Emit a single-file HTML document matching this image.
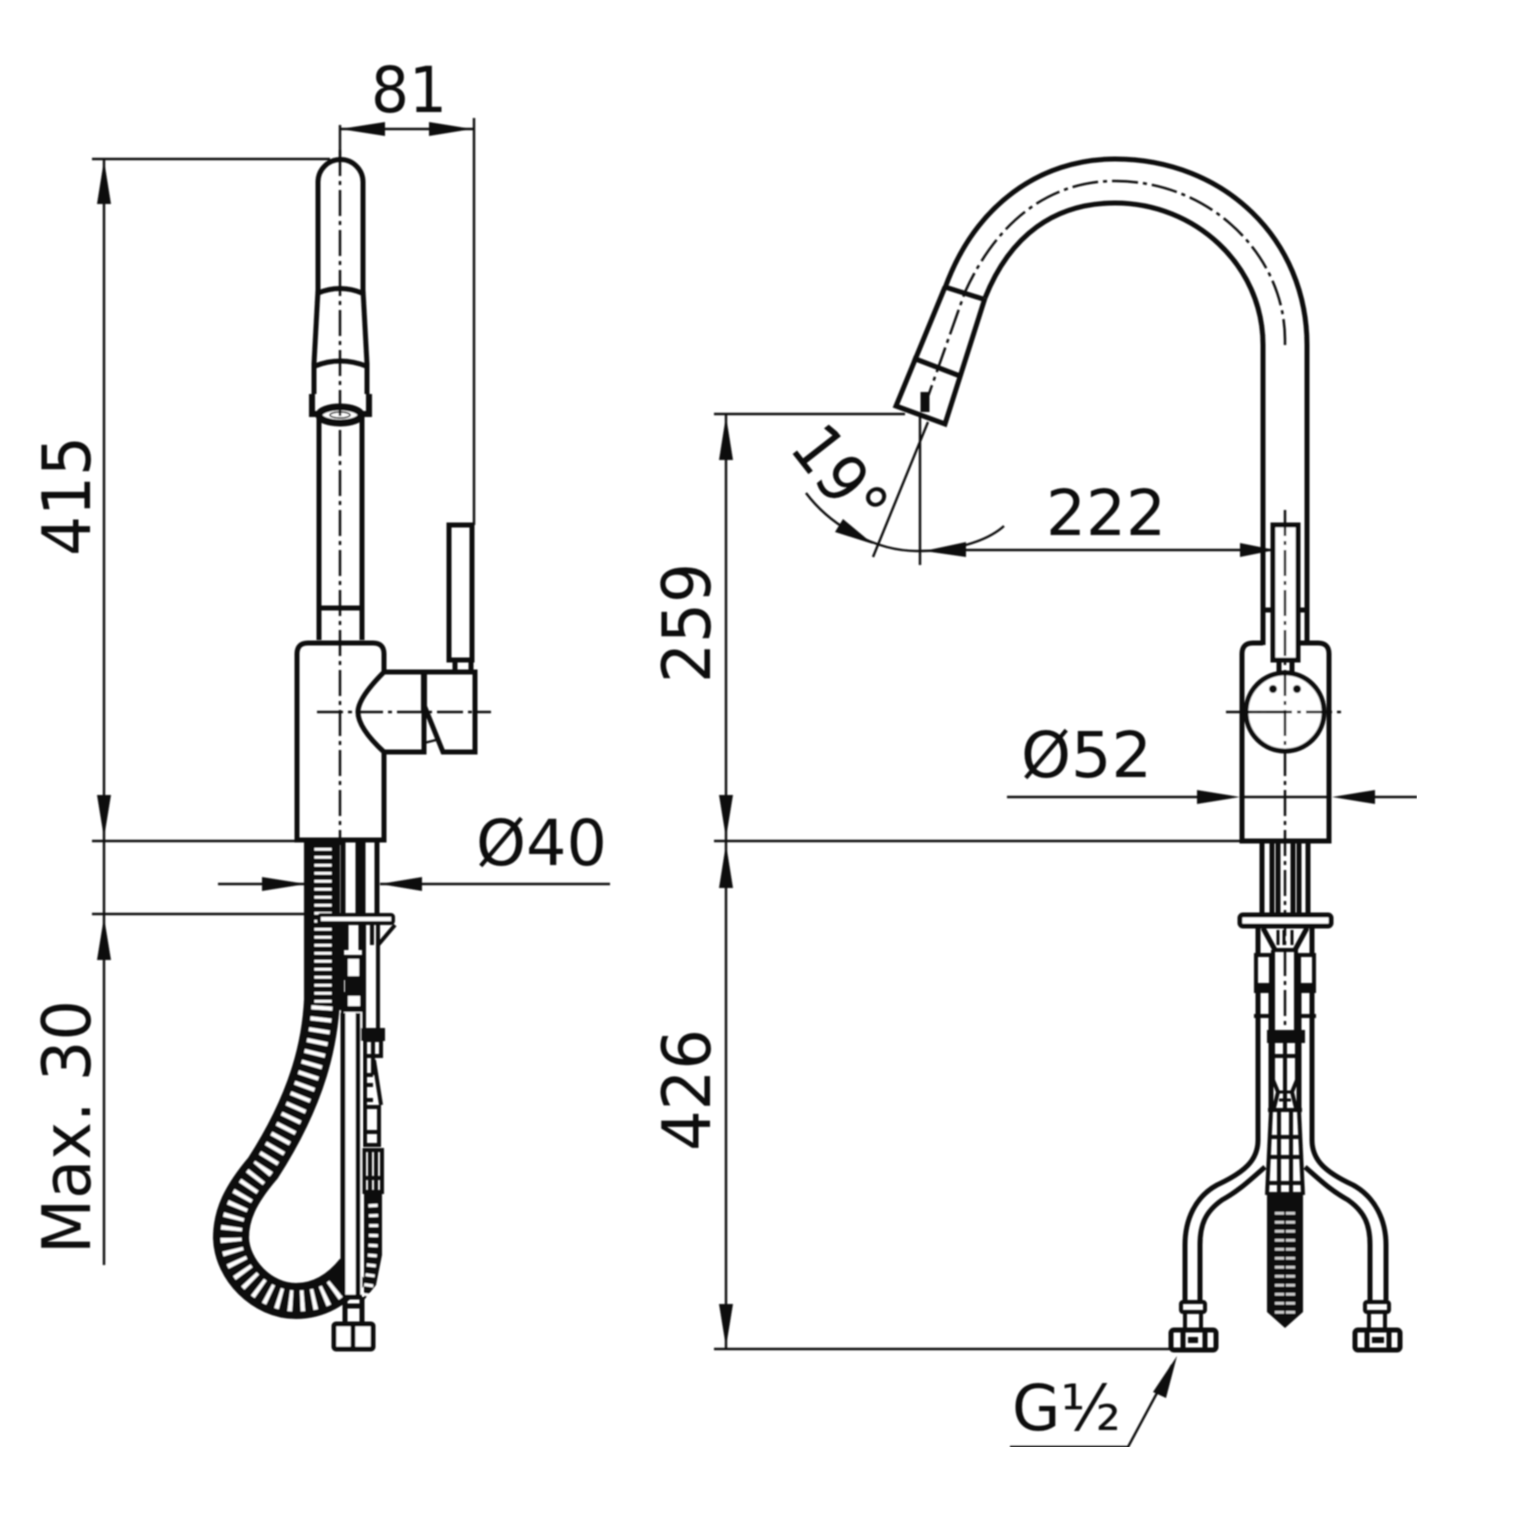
<!DOCTYPE html>
<html><head><meta charset="utf-8"><style>
html,body{margin:0;padding:0;background:#fff}
svg{display:block}
text{font-family:"DejaVu Sans","Liberation Sans",sans-serif;fill:#111;font-size:63px}
text.v{font-size:67px}
.t{stroke:#111;stroke-width:2.4;fill:none}
.m{stroke:#111;stroke-width:5;fill:none}
.h{stroke:#111;stroke-width:6;fill:none}
.c{stroke:#111;stroke-width:2.5;fill:none;stroke-dasharray:26 5 4 5}
</style></head><body>
<svg width="1518" height="1536" viewBox="0 0 1518 1536" xmlns="http://www.w3.org/2000/svg">
<defs><filter id="b" x="0" y="0" width="100%" height="100%"><feGaussianBlur stdDeviation="0.7"/></filter></defs>
<rect width="1518" height="1536" fill="#fff"/>
<g filter="url(#b)">
<!-- LEFT VIEW dims -->
<g class="t">
<path d="M92 159H330M104 160V1265M92 841H297M92 914H307"/>
<path d="M340 125V160M340 129H474M474 118V525"/>
<path d="M218 884H305M380 884H610"/>
</g>
<g fill="#111">
<polygon points="104,160 97,204 111,204"/>
<polygon points="104,838 97,795 111,795"/>
<polygon points="104,917 97,960 111,960"/>
<polygon points="340,129 385,122 385,136"/>
<polygon points="472,129 429,122 429,136"/>
<polygon points="306,884 262,877 262,891"/>
<polygon points="380,884 422,877 422,891"/>
</g>
<text x="371" y="112" textLength="76" lengthAdjust="spacingAndGlyphs">81</text>
<text class="v" transform="translate(90 556) rotate(-90)" textLength="120" lengthAdjust="spacingAndGlyphs">415</text>
<text class="v" transform="translate(90 1254) rotate(-90)" textLength="254" lengthAdjust="spacingAndGlyphs">Max. 30</text>
<text x="476" y="865" textLength="131" lengthAdjust="spacingAndGlyphs">Ø40</text>

<!-- LEFT VIEW spout -->
<g class="m">
<path d="M318 290V182A22.500 22.500 0 0 1 363 182V290"/>
<path d="M318 290L314 364V394M363 290L367 364V394"/>
<path d="M318 293Q340 284 362 293M315 366Q340 356 366 366"/>
<path d="M319 416V640M362 416V640M319 608H362"/>
</g>
<path d="M312 394V414H369V394" class="h"/>
<ellipse cx="340" cy="415" rx="21" ry="8" fill="#fff" stroke="#111" stroke-width="7"/>
<ellipse cx="340" cy="415" rx="10" ry="3" fill="#fff" stroke="#111" stroke-width="1.500"/>
<!-- body -->
<g class="m">
<path d="M384 672V654Q384 643 373 643H308Q297 643 297 654V840H384V752"/>
<path d="M384 672H475V752H443L424 705"/>
<path d="M384 752H424V672"/>
<path d="M384 672Q358 698 358 712Q358 728 384 752"/>
<path d="M449 525H472V660H449ZM455 660V672M471 660V672"/>
</g>
<path d="M424 672V712" class="h" stroke-width="7"/>
<path d="M424 743L436 740" class="t"/>
<path d="M340 150V845" class="c"/>
<path d="M317 712H491" class="c"/>

<!-- hose -->
<path d="M322 842V1000C320 1040 310 1095 263 1168C240 1195 231 1215 231 1238C232 1270 262 1301 296 1301C318 1301 338 1290 354 1270" stroke="#111" stroke-width="36" fill="none"/>
<path d="M323 848V1006" stroke="#fff" stroke-width="17" fill="none" stroke-dasharray="2.500 5.500"/>
<path d="M322 1006C320 1040 310 1095 263 1168C240 1195 231 1215 231 1238C232 1270 262 1301 296 1301C316 1301 328 1296 338 1287" stroke="#fff" stroke-width="21" fill="none" stroke-dasharray="4 7.500"/>
<!-- tubes -->
<g class="m">
<path d="M343 842V913M358 842V913M363 842V913M377 842V913"/>
<rect x="319" y="915" width="74" height="8" rx="2" fill="#fff" stroke-width="4"/>
<path d="M346 925V950M361 925V950"/>
<path d="M364 925V1028M372 925V945M378 925V1030M395 925L378 945" stroke-width="4"/>
<rect x="346" y="957" width="15" height="21" fill="#fff" stroke-width="4"/>
<rect x="346" y="994" width="16" height="14" fill="#fff" stroke-width="4"/>
<path d="M341 1012H365"/>
</g>
<rect x="345" y="979" width="19" height="14" fill="#111"/>
<rect x="338" y="925" width="6" height="85" fill="#111"/>
<rect x="344" y="1012" width="18" height="285" fill="#fff"/>
<path d="M343 1013V1295M358 1013V1295" class="m"/>
<g class="m" style="stroke-width:4">
<rect x="363" y="1030" width="20" height="9" fill="#111"/>
<rect x="365" y="1040" width="16" height="16"/>
<path d="M373 1040V1056"/>
<path d="M365 1056V1105M373 1056V1075M365 1075H373M374 1060L381 1105M365 1085H373M365 1100H373"/>
<rect x="365" y="1107" width="14" height="38"/>
<path d="M365 1132H379"/>
<path d="M364 1150H382V1192H364ZM370 1150V1192M376 1150V1192M364 1178H382"/>
</g>
<polygon points="364,1192 382,1192 382,1255 376,1285 364,1300" fill="#111"/>
<path d="M373 1204C375 1240 372 1265 367 1296" stroke="#fff" stroke-width="9" fill="none" stroke-dasharray="3 7"/>
<g class="m">
<path d="M344 1297H362M345 1297V1322M362 1297V1322M345 1306H362"/>
<rect x="334" y="1324" width="39" height="25" rx="2" fill="#fff"/>
<path d="M353 1324V1349"/>
</g>

<!-- RIGHT VIEW spout -->
<g class="m">
<path d="M1307 645V345C1307 240 1225 159 1115 159C1040 159 975 205 945 288"/>
<path d="M1263 645V345C1263 265 1195 203 1115 203C1055 203 1010 235 985 298"/>
<path d="M1263 610H1307"/>
<path d="M945 287L983 299M913 358L960 376"/>
<path d="M945 287L896 406L945 424L985 298"/>
</g>
<path d="M1285 345V340C1285 255 1210 181 1115 181C1055 181 1000 215 965 292L925 405" class="c"/>
<path d="M925 392V412" stroke="#111" stroke-width="9" fill="none"/>
<!-- angle dims -->
<g class="t">
<path d="M714 414H905M928 422L873 557M920 415V565"/>
<path d="M806 493C830 525 875 552 920 551C950 551 985 543 1004 526"/>
<path d="M960 550H1272"/>
</g>
<g fill="#111">
<polygon points="873,544 843,519 835,532"/>
<polygon points="924,551 966,542 966,557"/>
<polygon points="1275,550 1240,543 1240,557"/>
</g>
<text x="1046" y="535" textLength="120" lengthAdjust="spacingAndGlyphs">222</text>
<text class="v" transform="translate(788 448) rotate(52)" textLength="108" lengthAdjust="spacingAndGlyphs">19°</text>

<!-- handle & body right -->
<path d="M1273 525H1298V660H1273Z" fill="#fff" stroke="#111" stroke-width="5"/>
<g class="m">
<path d="M1263 643H1253Q1242 643 1242 654V841H1329V654Q1329 643 1318 643H1298"/>
<path d="M1279 660V672M1292 660V672"/>
</g>
<circle cx="1285" cy="712" r="39" fill="#fff" stroke="#111" stroke-width="5"/>
<circle cx="1273" cy="689" r="4" fill="#111"/>
<circle cx="1297" cy="689" r="4" fill="#111"/>
<path d="M1246 712H1285" stroke="#111" stroke-width="2.800"/>
<path d="M1226 712H1345" class="c"/>
<path d="M1285 510V1030" class="c"/>
<!-- mid dims -->
<g class="t">
<path d="M726 414V1349M714 841H1242M714 1349H1170"/>
<path d="M1007 797H1200M1240 797H1331M1372 797H1417"/>
<path d="M1010 1447H1128L1172 1365"/>
</g>
<g fill="#111">
<polygon points="726,416 719,460 733,460"/>
<polygon points="726,838 719,795 733,795"/>
<polygon points="726,844 719,888 733,888"/>
<polygon points="726,1347 719,1304 733,1304"/>
<polygon points="1240,797 1197,790 1197,804"/>
<polygon points="1332,797 1375,790 1375,804"/>
<polygon points="1177,1356 1153,1392 1166,1398"/>
</g>
<text class="v" transform="translate(710 683) rotate(-90)" textLength="120" lengthAdjust="spacingAndGlyphs">259</text>
<text class="v" transform="translate(710 1151) rotate(-90)" textLength="122" lengthAdjust="spacingAndGlyphs">426</text>
<text x="1021" y="777" textLength="131" lengthAdjust="spacingAndGlyphs">Ø52</text>
<text x="1012" y="1430" textLength="109" lengthAdjust="spacingAndGlyphs">G½</text>

<!-- right lower -->
<g class="m">
<path d="M1262 842V913M1272 842V913M1278 842V913M1293 842V913M1299 842V913M1308 842V913"/>
<rect x="1240" y="915" width="91" height="11" rx="3" fill="#fff"/>
<path d="M1258 928V955M1312 928V955M1263 928L1275 950M1307 928L1295 950"/>
<path d="M1272 950H1298M1273 950V1030M1296 950V1030" stroke-width="4"/>
<path d="M1278 930V945M1292 930V945M1284 930V945" stroke-width="3"/>
<rect x="1256" y="955" width="15" height="30" stroke-width="4"/>
<rect x="1299" y="955" width="15" height="30" stroke-width="4"/>
<rect x="1254" y="984" width="18" height="9" fill="#111" stroke="none"/>
<rect x="1298" y="984" width="18" height="9" fill="#111" stroke="none"/>
<path d="M1258 993V1016M1271 993V1016M1312 993V1016M1299 993V1016"/>
<path d="M1254 1016H1272M1298 1016H1316" stroke-width="4"/>
<path d="M1258 1016V1140C1258 1160 1245 1172 1217 1185C1195 1197 1185 1220 1185 1245V1300"/>
<path d="M1271 1016V1110M1265 1167C1250 1180 1240 1190 1222 1200C1205 1212 1200 1225 1200 1245V1300"/>
<path d="M1312 1016V1140C1312 1160 1325 1172 1353 1185C1375 1197 1386 1220 1386 1245V1300"/>
<path d="M1299 1016V1110M1305 1167C1320 1180 1330 1190 1348 1200C1365 1212 1370 1225 1370 1245V1300"/>
<rect x="1181" y="1302" width="24" height="10" rx="2" stroke-width="4"/>
<rect x="1365" y="1302" width="24" height="10" rx="2" stroke-width="4"/>
<path d="M1185 1312V1329M1201 1312V1329M1369 1312V1329M1385 1312V1329" stroke-width="4"/>
<rect x="1171" y="1330" width="45" height="20" rx="3"/>
<rect x="1355" y="1330" width="45" height="20" rx="3"/>
<path d="M1183 1330V1350M1205 1330V1350M1367 1330V1350M1389 1330V1350"/>
<rect x="1188" y="1337" width="10" height="6" fill="#111" stroke="none"/>
<rect x="1372" y="1337" width="12" height="6" fill="#111" stroke="none"/>
</g>
<g class="m" style="stroke-width:4">
<path d="M1273 1043V1085M1297 1043V1085M1285 1043V1110M1273 1056H1297"/>
<path d="M1297 1080L1292 1092L1296 1108M1273 1080L1278 1092L1274 1108"/>
<path d="M1268 1110H1302M1271 1110L1267 1195M1299 1110L1303 1195"/>
<path d="M1270 1137H1300M1268 1157H1302M1267 1183H1303M1279 1110V1195M1291 1110V1195"/>
</g>
<rect x="1267" y="1030" width="38" height="13" fill="#111"/>
<path d="M1279 1092H1291M1279 1100H1291" stroke="#111" stroke-width="3"/>
<polygon points="1267,1192 1303,1192 1303,1312 1285,1328 1267,1312" fill="#111"/>
<path d="M1285 1212V1316" stroke="#fff" stroke-width="20" fill="none" stroke-dasharray="2.500 6.500" opacity=".8"/>
<rect x="1284" y="1205" width="2" height="115" fill="#111"/>
</g>
</svg>
</body></html>
